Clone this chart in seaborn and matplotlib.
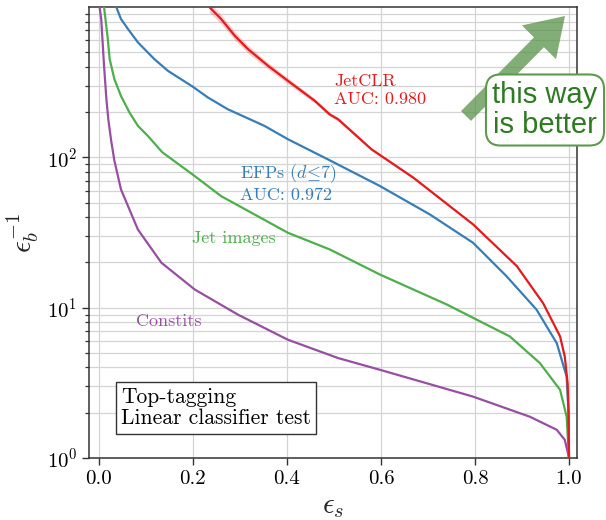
import matplotlib
matplotlib.use("Agg")
import matplotlib.pyplot as plt
from matplotlib.patches import FancyArrow
import numpy as np
import pandas as pd
import seaborn as sns

# ---- data ----
jetclr_eps = [0.235, 0.26, 0.289, 0.317, 0.36, 0.402, 0.459, 0.491, 0.509, 0.580, 0.669, 0.796,
              0.889, 0.945, 0.981, 0.991, 0.997, 0.999, 1.0]
jetclr_inv = [1000, 832, 644, 525, 406, 323, 238, 193, 179, 113, 73.2, 35.8,
              18.9, 10.7, 6.44, 4.73, 3.15, 2.0, 1.0]
jetclr_err = [0.08, 0.07, 0.065, 0.06, 0.05, 0.045, 0.035, 0.03, 0.028, 0.02, 0.015, 0.01,
              0.01, 0.01, 0.01, 0.01, 0.01, 0.01, 0.0]

efp_eps = [0.037, 0.047, 0.062, 0.083, 0.118, 0.147, 0.199, 0.232, 0.274, 0.352, 0.402, 0.487,
           0.598, 0.704, 0.796, 0.867, 0.931, 0.974, 0.995, 0.999, 1.0]
efp_inv = [1000, 832, 713, 582, 450, 376, 296, 250, 209, 162, 132, 97,
           64.4, 41.7, 27, 16.2, 9.7, 5.8, 3.48, 2.0, 1.0]

img_eps = [0.011, 0.019, 0.023, 0.033, 0.047, 0.065, 0.083, 0.104, 0.135, 0.204, 0.26, 0.331,
           0.402, 0.491, 0.598, 0.740, 0.874, 0.938, 0.981, 0.995, 1.0]
img_inv = [1000, 612, 450, 331, 256, 199, 162, 139, 108, 75, 55.2, 41.7,
           31.5, 24.4, 16.6, 10.5, 6.44, 4.28, 2.84, 1.88, 1.0]

con_eps = [0.0015, 0.005, 0.011, 0.016, 0.020, 0.026, 0.033, 0.047, 0.083, 0.133, 0.204, 0.296,
           0.402, 0.509, 0.598, 0.796, 0.917, 0.974, 0.991, 0.997, 1.0]
con_inv = [1000, 832, 406, 244, 180, 130, 95, 61.2, 33.1, 19.9, 13.2, 8.98,
           6.12, 4.62, 3.86, 2.56, 1.88, 1.54, 1.32, 1.1, 1.0]

x_ticks = [0.0, 0.2, 0.4, 0.6, 0.8, 1.0]
y_ticks = [1, 10, 100]

RED, BLUE, GREEN, PURPLE = "#e41a1c", "#377eb8", "#4daf4a", "#984ea3"

sns.set_theme(style="ticks")
plt.rcParams["font.family"] = ["cmr10", "DejaVu Serif"]
plt.rcParams["mathtext.fontset"] = "cm"
plt.rcParams["axes.formatter.use_mathtext"] = True

fig = plt.figure(figsize=(6.06, 5.20), dpi=100)
ax = fig.add_axes([89 / 606, 1 - 458 / 520, (577 - 89) / 606, (458 - 7) / 520])

# uncertainty band for JetCLR
lo = np.array(jetclr_inv) * (1 - np.array(jetclr_err))
hi = np.array(jetclr_inv) * (1 + np.array(jetclr_err))
ax.fill_between(jetclr_eps, lo, hi, color=RED, alpha=0.22, lw=0, zorder=2)

for eps, inv, col in [(con_eps, con_inv, PURPLE), (img_eps, img_inv, GREEN),
                      (efp_eps, efp_inv, BLUE), (jetclr_eps, jetclr_inv, RED)]:
    df = pd.DataFrame({"eps": eps, "inv": inv})
    sns.lineplot(data=df, x="eps", y="inv", ax=ax, color=col, lw=1.6,
                 estimator=None, sort=False, zorder=3)

ax.set_yscale("log")
ax.set_xlim(-0.021, 1.017)
ax.set_ylim(1, 1000)
ax.set_xticks(x_ticks)
ax.set_xticklabels([f"{t:.1f}" for t in x_ticks])
ax.set_yticks(y_ticks)

ax.grid(True, which="major", axis="both", color="#d4d4d4", lw=0.9, zorder=0)
ax.grid(True, which="minor", axis="y", color="#d4d4d4", lw=0.9, zorder=0)
ax.set_axisbelow(True)

for s in ax.spines.values():
    s.set_color("#333333")
    s.set_linewidth(1.1)
ax.tick_params(axis="both", which="major", direction="out", length=5, width=1,
               color="#333333", labelsize=15, labelcolor="black")
ax.tick_params(axis="y", which="minor", direction="out", length=3, width=0.9, color="#333333")
ax.tick_params(axis="x", which="minor", bottom=False)

ax.set_xlabel(r"$\epsilon_s$", fontsize=21)
ax.set_ylabel(r"$\epsilon_b^{-1}$", fontsize=21)

# curve labels
ax.text(0.50, 360, "JetCLR\nAUC: 0.980", color=RED, fontsize=13, ha="left", va="top")
ax.text(0.30, 92, "EFPs ($d\\!\\leq\\!7$)\nAUC: 0.972", color=BLUE, fontsize=13, ha="left", va="top")
ax.text(0.199, 28.8, "Jet images", color=GREEN, fontsize=13, ha="left", va="center")
ax.text(0.079, 8.07, "Constits", color=PURPLE, fontsize=13, ha="left", va="center")

ax.text(0.047, 2.93, "Top-tagging\nLinear classifier test", color="black", fontsize=15.5,
        ha="left", va="top", linespacing=1.1,
        bbox=dict(boxstyle="square,pad=0.25", fc="white", ec="#333333", lw=1.0))

# "this way is better" arrow + box
arrow = FancyArrow(4.66, 5.20 - 1.16, 0.99, 1.0, width=0.14, head_width=0.48,
                   head_length=0.37, length_includes_head=True,
                   transform=fig.dpi_scale_trans, color="#5a9249", alpha=0.75,
                   lw=0, zorder=5)
fig.patches.append(arrow)
fig.text(545 / 606, 1 - 110 / 520, "this way\nis better", fontsize=21,
         family=["Liberation Sans", "DejaVu Sans"], color="#2e7a22",
         ha="center", va="center", linespacing=1.1, zorder=6,
         bbox=dict(boxstyle="round,pad=0.22,rounding_size=0.5", fc="white",
                   ec="#5c9a4c", lw=1.5))

fig.savefig("out.png", dpi=100)
